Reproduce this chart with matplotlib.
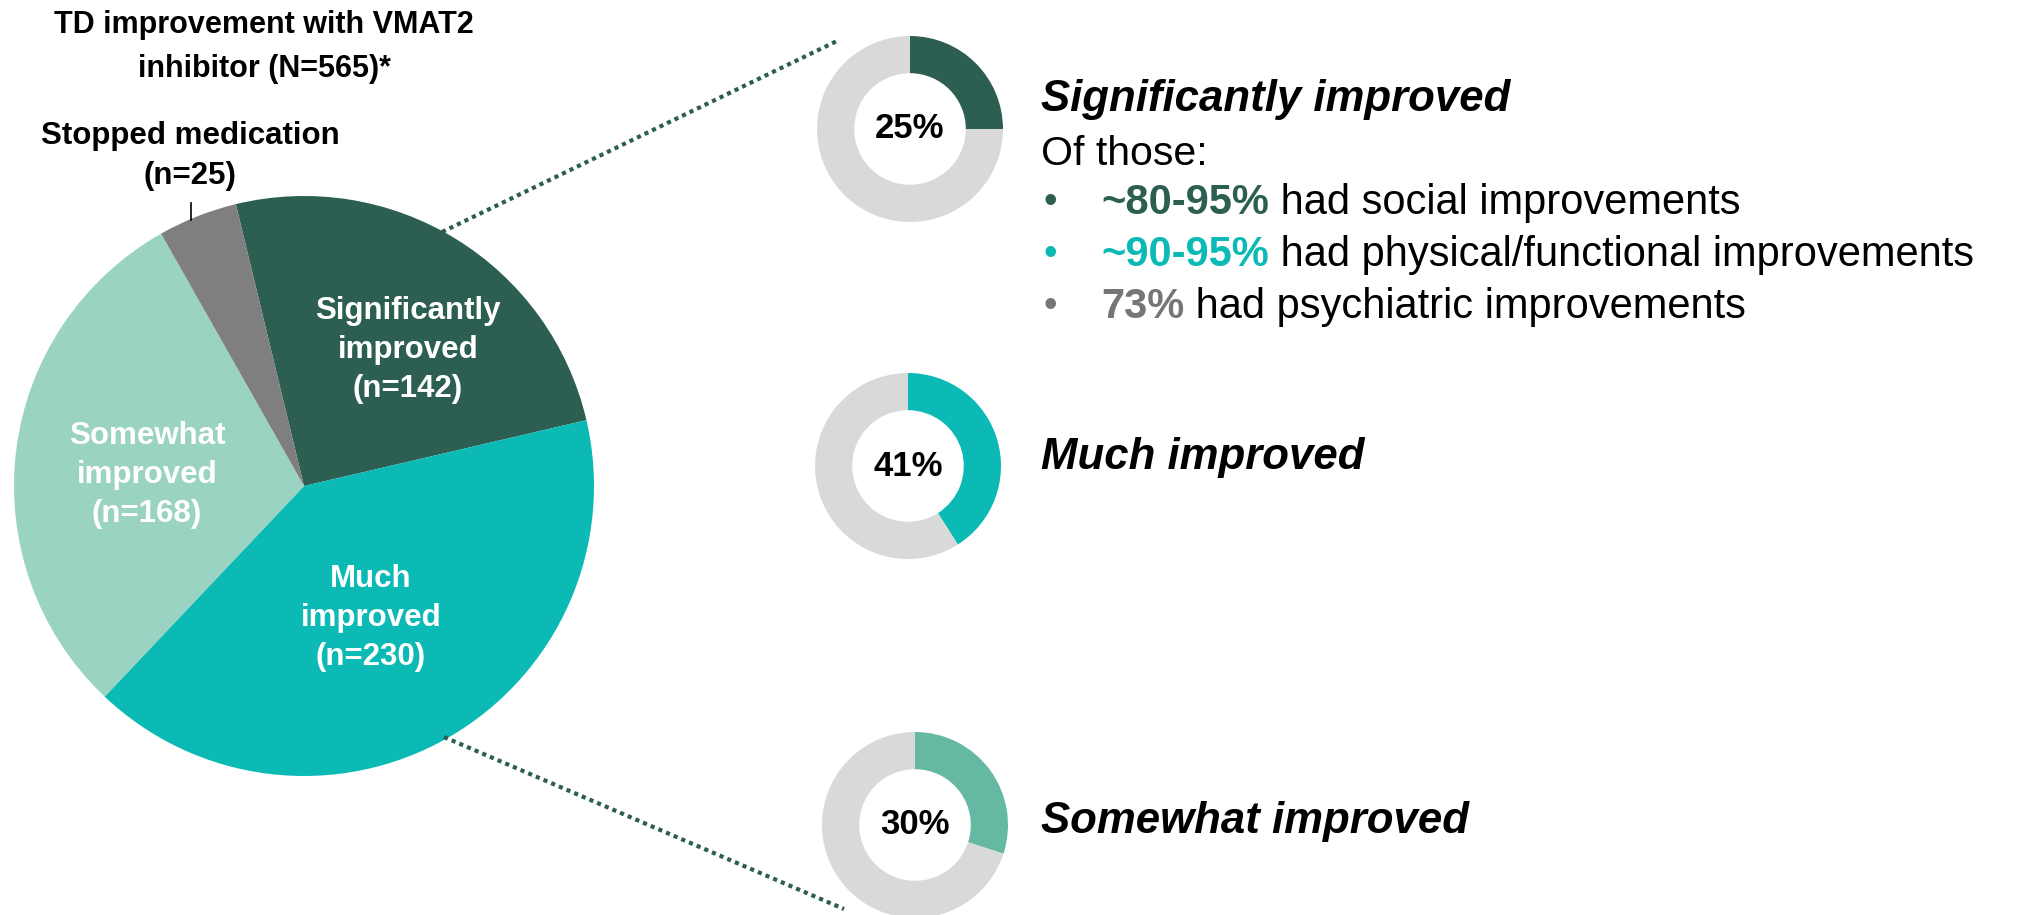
import matplotlib.pyplot as plt

plt.rcParams['font.family'] = ['Liberation Sans', 'DejaVu Sans']

# data
categories = ['Significantly improved', 'Much improved', 'Somewhat improved', 'Stopped medication']
counts = [142, 230, 168, 25]
total_n = 565
pie_labels = ['Significantly\nimproved\n(n=142)', 'Much\nimproved\n(n=230)', 'Somewhat\nimproved\n(n=168)', '']
detail_pcts = ['~80-95%', '~90-95%', '73%']
detail_texts = [' had social improvements', ' had physical/functional improvements', ' had psychiatric improvements']

DARK = '#2C5F51'
TEAL = '#0BB9B5'
LIGHT = '#9BD3C3'
GRAY = '#7F7F7F'
MID = '#65B9A2'
RING = '#D9D9D9'
TXTGRAY = '#767676'

pie_colors = [DARK, TEAL, LIGHT, GRAY]
donut_colors = [DARK, TEAL, MID]
detail_colors = [DARK, TEAL, TXTGRAY]

fig = plt.figure(figsize=(20.2, 9.15), dpi=100)
ax = fig.add_axes([0, 0, 1, 1])

# main pie
pie_c = (304, 429)
pie_r = 290
ax.pie(counts, colors=pie_colors, startangle=103.6, counterclock=False,
       center=pie_c, radius=pie_r, wedgeprops=dict(linewidth=0), frame=True)

label_pos = [(408, 565), (371, 297), (147, 440)]
for lab, (x, y) in zip(pie_labels[:3], label_pos):
    ax.text(x, y, lab, color='white', fontsize=22.5, fontweight='bold',
            ha='center', va='center', linespacing=1.4)

# title and stopped label
ax.text(264, 868, 'TD improvement with VMAT2\ninhibitor (N=565)*', fontsize=22,
        fontweight='bold', ha='center', va='center', linespacing=1.6)
ax.text(190, 759, 'Stopped medication\n(n=25)', fontsize=22.5, fontweight='bold',
        ha='center', va='center', linespacing=1.4)
ax.plot([191, 191], [695, 712], color='black', lw=1.2)

# dotted connectors
ax.plot([442, 837], [683, 874], color=DARK, lw=3, linestyle=(0, (1, 1)))
ax.plot([444, 844], [178, 6], color=DARK, lw=3, linestyle=(0, (1, 1)))

# donuts
donut_centers = [(910, 786), (908, 449), (915, 90)]
donut_r = 93
for n, c, (x, y) in zip(counts[:3], donut_colors, donut_centers):
    pct = round(n / total_n * 100)
    ax.pie([pct, 100 - pct], colors=[c, RING], startangle=90, counterclock=False,
           center=(x, y), radius=donut_r,
           wedgeprops=dict(width=0.4 * donut_r, linewidth=0), frame=True)
    ax.text(x, y, f'{pct}%', fontsize=25, fontweight='bold', ha='center', va='center')

# right-hand text
tx = 1041
ax.text(tx, 815, 'Significantly improved', fontsize=31.5, fontweight='bold',
        fontstyle='italic', va='center')
ax.text(tx, 761, 'Of those:', fontsize=29.5, va='center')
for i, (p, t, c) in enumerate(zip(detail_pcts, detail_texts, detail_colors)):
    y = 712 - i * 52
    ax.text(1050, y, '•', fontsize=28, color=c, va='center', ha='center')
    first = ax.text(1101, y, p, fontsize=30, fontweight='bold', color=c, va='center')
    ax.annotate(t, xy=(1, 0.5), xycoords=first, fontsize=30, va='center', ha='left')

ax.text(tx, 458, 'Much improved', fontsize=31.5, fontweight='bold',
        fontstyle='italic', va='center')
ax.text(tx, 94, 'Somewhat improved', fontsize=31.5, fontweight='bold',
        fontstyle='italic', va='center')

ax.set_xlim(0, 2020)
ax.set_ylim(0, 915)
ax.set_aspect('equal')
ax.axis('off')

fig.savefig('out.png', dpi=100)
